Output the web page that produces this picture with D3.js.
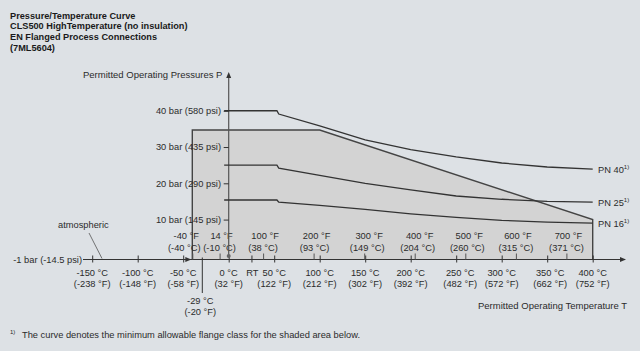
<!DOCTYPE html>
<html>
<head>
<meta charset="utf-8">
<script src="https://cdn.jsdelivr.net/npm/d3@7"></script>
<style>
  body { margin: 0; background: #dde1e5; }
  svg { display: block; font-family: "Liberation Sans", Arial, sans-serif; }
  text { fill: #2b2b2b; }
</style>
</head>
<body>
<div id="graphicContainer"></div>
<script>
// ---- data ----
var titleLines = ["Pressure/Temperature Curve", "CLS500 HighTemperature (no insulation)", "EN Flanged Process Connections", "(7ML5604)"];

// temperature in degC, pressure in bar
var pn40 = [[-5, 40], [53, 40], [55, 39.1], [100, 35.8], [150, 32.0], [200, 29.3], [250, 27.3], [300, 25.6], [350, 24.5], [400, 23.9]];
var pn25 = [[-5, 25], [53, 25], [55, 24.2], [100, 22.2], [150, 20.0], [200, 18.2], [250, 16.5], [300, 15.6], [350, 15.0], [400, 14.8]];
var pn16 = [[-5, 15.4], [53, 15.4], [55, 14.8], [100, 13.9], [150, 12.8], [200, 11.6], [250, 10.6], [300, 9.8], [350, 9.3], [400, 9.0]];
var seriesNames = ["PN 40", "PN 25", "PN 16"];

// shaded permitted area
var shaded = [[-40, -1], [-40, 34.7], [100, 34.7], [400, 10], [400, -1]];

var pressureTicks = [10, 20, 30, 40];
var pressureLabels = ["10 bar (145 psi)", "20 bar (290 psi)", "30 bar (435 psi)", "40 bar (580 psi)"];
var bottomPressureLabel = "-1 bar (-14.5 psi)";

var celsiusTicks = [-150, -100, -50, 0, 50, 100, 150, 200, 250, 300, 350, 400];
var celsiusLabels = ["-150 °C", "-100 °C", "-50 °C", "0 °C", "50 °C", "100 °C", "150 °C", "200 °C", "250 °C", "300 °C", "350 °C", "400 °C"];
var celsiusInF = ["(-238 °F)", "(-148 °F)", "(-58 °F)", "(32 °F)", "(122 °F)", "(212 °F)", "(302 °F)", "(392 °F)", "(482 °F)", "(572 °F)", "(662 °F)", "(752 °F)"];

var fahrenheitTicksC = [-40, -10, 37.8, 93.3, 148.9, 204.4, 260, 315.6, 371.1];
var fahrenheitLabels = ["-40 °F", "14 °F", "100 °F", "200 °F", "300 °F", "400 °F", "500 °F", "600 °F", "700 °F"];
var fahrenheitInC = ["(-40 °C)", "(-10 °C)", "(38 °C)", "(93 °C)", "(149 °C)", "(204 °C)", "(260 °C)", "(315 °C)", "(371 °C)"];

var roomTemp = 25;
var minTemp = -29;
var minTempLabels = ["-29 °C", "(-20 °F)"];

// ---- drawing ----
var width = 640, height = 351;
var ink = "#333";

var svg = d3.select("#graphicContainer").append("svg")
  .attr("width", width).attr("height", height);

var x = d3.scaleLinear().domain([-150, 400]).range([92.2, 592.7]);
var y = d3.scaleLinear().domain([-1, 40]).range([259.5, 110.75]);

// title
svg.append("g").selectAll("text").data(titleLines).enter().append("text")
  .attr("x", 10).attr("y", function (d, i) { return 18.5 + i * 10.7; })
  .style("font-size", "9.2px").style("font-weight", "bold").style("fill", "#1a1a1a")
  .text(function (d) { return d; });

// shaded area
svg.append("path")
  .datum(shaded)
  .attr("d", d3.line().x(function (d) { return x(d[0]); }).y(function (d) { return y(d[1]); }))
  .style("fill", "#d3d3d3").style("stroke", "#444").style("stroke-width", 1.4);

// x axis line + arrow
var axisY = y(-1);
svg.append("line").attr("x1", 83).attr("x2", 620).attr("y1", axisY).attr("y2", axisY)
  .style("stroke", ink).style("stroke-width", 1.2);
svg.append("path").attr("d", "M620," + (axisY - 2.5) + "L626," + axisY + "L620," + (axisY + 2.5) + "Z").style("fill", ink);
svg.append("path").attr("d", "M" + (x(-40) - 7) + "," + (axisY - 2.5) + "L" + (x(-40) - 1) + "," + axisY + "L" + (x(-40) - 7) + "," + (axisY + 2.5) + "Z").style("fill", ink);

// celsius ticks (below)
var cAxis = d3.axisBottom(x).tickValues(celsiusTicks.concat([roomTemp])).tickSize(3).tickFormat("");
var cg = svg.append("g").attr("transform", "translate(0," + axisY + ")").call(cAxis);
cg.select(".domain").remove();
cg.selectAll("line").attr("y1", -4).style("stroke", ink);

// fahrenheit ticks (above)
var fAxis = d3.axisTop(x).tickValues(fahrenheitTicksC).tickSize(6).tickFormat("");
var fg = svg.append("g").attr("transform", "translate(0," + axisY + ")").call(fAxis);
fg.select(".domain").remove();
fg.selectAll("line").style("stroke", "#555");

var labelFont = "9.3px";
var cShift = { "250 °C": 4, "350 °C": 3 };
celsiusTicks.forEach(function (t, i) {
  var cx = x(t) + (cShift[celsiusLabels[i]] || 0);
  svg.append("text").attr("x", cx).attr("y", 275.5).attr("text-anchor", "middle").style("font-size", labelFont).text(celsiusLabels[i]);
  svg.append("text").attr("x", cx).attr("y", 287).attr("text-anchor", "middle").style("font-size", labelFont).text(celsiusInF[i]);
});
svg.append("text").attr("x", x(roomTemp) + 1).attr("y", 275.5).attr("text-anchor", "middle").style("font-size", labelFont).text("RT");

var fShift = { "-40 °F": -8, "14 °F": 0, "200 °F": 1, "300 °F": 3, "400 °F": 3, "500 °F": 2 };
fahrenheitTicksC.forEach(function (t, i) {
  var fx = x(t) + (fShift[fahrenheitLabels[i]] || 0);
  svg.append("text").attr("x", fx + (i === 0 ? 2 : 2)).attr("y", 238.5).attr("text-anchor", "middle").style("font-size", labelFont).text(fahrenheitLabels[i]);
  svg.append("text").attr("x", fx).attr("y", 250.5).attr("text-anchor", "middle").style("font-size", labelFont).text(fahrenheitInC[i]);
});

// -29 °C marker
svg.append("line").attr("x1", x(minTemp)).attr("x2", x(minTemp)).attr("y1", axisY - 2).attr("y2", 293)
  .style("stroke", ink).style("stroke-width", 1);
minTempLabels.forEach(function (d, i) {
  svg.append("text").attr("x", x(minTemp) - 2).attr("y", 303.5 + i * 11).attr("text-anchor", "middle").style("font-size", labelFont).text(d);
});

// y axis
var x0 = x(0);
svg.append("line").attr("x1", x0).attr("x2", x0).attr("y1", axisY - 3).attr("y2", 77)
  .style("stroke", "#555").style("stroke-width", 1.2);
svg.append("path").attr("d", "M" + (x0 - 2.5) + ",78L" + x0 + ",72L" + (x0 + 2.5) + ",78Z").style("fill", ink);
svg.append("circle").attr("cx", x0).attr("cy", axisY - 3.5).attr("r", 2).style("fill", "#666");

var yAxis = d3.axisLeft(y).tickValues(pressureTicks).tickSize(5).tickFormat("");
var yg = svg.append("g").attr("transform", "translate(" + x0 + ",0)").call(yAxis);
yg.select(".domain").remove();
yg.selectAll("line").style("stroke", ink);

pressureTicks.forEach(function (p, i) {
  svg.append("text").attr("x", 221).attr("y", y(p) + 3.3).attr("text-anchor", "end").style("font-size", labelFont).text(pressureLabels[i]);
});
svg.append("text").attr("x", 82).attr("y", axisY + 3.3).attr("text-anchor", "end").style("font-size", labelFont).text(bottomPressureLabel);

// axis titles
svg.append("text").attr("x", 83).attr("y", 77.5).style("font-size", "9.5px").text("Permitted Operating Pressures P");
svg.append("text").attr("x", 478).attr("y", 308.5).style("font-size", "9.5px").text("Permitted Operating Temperature T");

// atmospheric
svg.append("text").attr("x", 58).attr("y", 227.5).style("font-size", labelFont).text("atmospheric");
svg.append("line").attr("x1", 89).attr("y1", 233).attr("x2", 102).attr("y2", axisY - 1)
  .style("stroke", "#555").style("stroke-width", 0.8);

// PN curves
var line = d3.line().x(function (d) { return x(d[0]); }).y(function (d) { return y(d[1]); });
[pn40, pn25, pn16].forEach(function (s, i) {
  svg.append("path").datum(s).attr("d", line)
    .style("fill", "none").style("stroke", ink).style("stroke-width", 1.3);
  var last = s[s.length - 1];
  var t = svg.append("text").attr("x", 598).attr("y", y(last[1]) + 3.4).style("font-size", labelFont);
  t.append("tspan").text(seriesNames[i]);
  t.append("tspan").attr("dy", -3.5).style("font-size", "6px").text("1)");
});

// footnote
svg.append("text").attr("x", 10).attr("y", 334).style("font-size", "6px").text("1)");
svg.append("text").attr("x", 22).attr("y", 338.2).style("font-size", labelFont).text("The curve denotes the minimum allowable flange class for the shaded area below.");
</script>
</body>
</html>
